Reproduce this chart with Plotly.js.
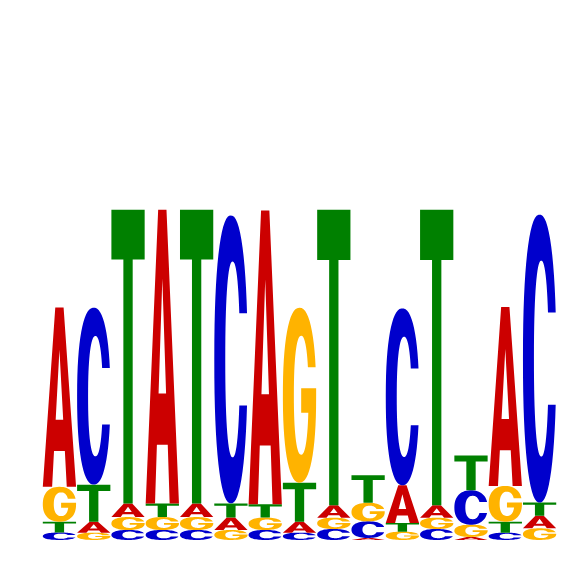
<!DOCTYPE html>
<html>
<head>
<meta charset="utf-8">
<script src="https://cdn.plot.ly/plotly-3.0.1.min.js"></script>
<style>
  html, body { margin: 0; padding: 0; background: #fff; }
  #logo { width: 566px; height: 566px; }
</style>
</head>
<body>
<div id="logo"></div>
<script>
// motif positions and per-letter heights (bits)
const positions = [1, 2, 3, 4, 5, 6, 7, 8, 9, 10, 11, 12, 13, 14, 15];
const bitsA = [1.08, 0.066, 0.082, 1.77, 0.082, 0.075, 1.77, 0.066, 0.075, 0.012, 0.227, 0.075, 0.018, 1.078, 0.075];
const bitsC = [0.045, 1.066, 0.06, 0.06, 0.06, 1.735, 0.06, 0.044, 0.066, 0.10, 1.066, 0.066, 0.207, 0.044, 1.735];
const bitsG = [0.21, 0.044, 0.078, 0.078, 0.078, 0.06, 0.075, 1.054, 0.068, 0.112, 0.05, 0.068, 0.074, 0.215, 0.07];
const bitsT = [0.065, 0.223, 1.77, 0.082, 1.77, 0.085, 0.08, 0.235, 1.78, 0.166, 0.052, 1.78, 0.209, 0.066, 0.08];

const letterColors = { A: '#CC0000', C: '#0000CC', G: '#FFB300', T: '#008000' };
const letterWidth = 0.97;

// ---- glyph outlines in a unit box (u right, v up) ----
const N_EXP = 2.3;

function superPoint(cx, cy, rx, ry, t) {
  const c = Math.cos(t), s = Math.sin(t);
  return [cx + rx * Math.sign(c) * Math.pow(Math.abs(c), 2 / N_EXP),
          cy + ry * Math.sign(s) * Math.pow(Math.abs(s), 2 / N_EXP)];
}

// angle on the superellipse where v sits dv above the centre
function angleFor(dv, ry) {
  return Math.asin(Math.pow(dv / ry, N_EXP / 2));
}

function arc(cx, cy, rx, ry, t0, t1, steps) {
  const pts = [];
  for (let i = 0; i <= steps; i++) {
    pts.push(superPoint(cx, cy, rx, ry, t0 + (t1 - t0) * i / steps));
  }
  return pts;
}

const OUT = { cx: 0.5, cy: 0.5, rx: 0.5, ry: 0.5 };
const INN = { cx: 0.55, cy: 0.5, rx: 0.22, ry: 0.34 };

function glyphA() {
  return [
    [[0, 0], [0.375, 1], [0.625, 1], [1, 0], [0.72, 0], [0.663, 0.2], [0.337, 0.2], [0.28, 0]],
    [[0.387, 0.374], [0.613, 0.374], [0.5, 0.765]]
  ];
}

function glyphT() {
  return [[[0, 1], [1, 1], [1, 0.83], [0.64, 0.83], [0.64, 0], [0.36, 0], [0.36, 0.83], [0, 0.83]]];
}

function glyphC() {
  const to = angleFor(0.16, OUT.ry);
  const ti = angleFor(0.16, INN.ry);
  const outer = arc(OUT.cx, OUT.cy, OUT.rx, OUT.ry, to, 2 * Math.PI - to, 60);
  const inner = arc(INN.cx, INN.cy, INN.rx, INN.ry, 2 * Math.PI - ti, ti, 60);
  return [outer.concat(inner)];
}

function glyphG() {
  const to = angleFor(0.16, OUT.ry);
  const ti = angleFor(0.16, INN.ry);
  const tb = angleFor(0.10, INN.ry);
  const outer = arc(OUT.cx, OUT.cy, OUT.rx, OUT.ry, to, 2 * Math.PI, 60);
  const bar = [[1, 0.54], [0.55, 0.54], [0.55, 0.40]];
  const inner = arc(INN.cx, INN.cy, INN.rx, INN.ry, 2 * Math.PI - tb, ti, 60);
  return [outer.concat(bar, inner)];
}

const glyphs = { A: glyphA(), C: glyphC(), G: glyphG(), T: glyphT() };

function glyphPath(letter, xc, y0, h) {
  const x0 = xc - letterWidth / 2;
  return glyphs[letter].map(poly =>
    poly.map((p, i) => (i ? 'L' : 'M') + (x0 + p[0] * letterWidth).toFixed(4) + ',' + (y0 + p[1] * h).toFixed(4)).join(' ') + ' Z'
  ).join(' ');
}

// ---- stack letters per column, smallest at the bottom ----
const shapes = [];
const totals = [];
positions.forEach((pos, i) => {
  const col = [
    { l: 'A', h: bitsA[i] }, { l: 'C', h: bitsC[i] },
    { l: 'G', h: bitsG[i] }, { l: 'T', h: bitsT[i] }
  ].sort((a, b) => a.h - b.h);
  let y = 0;
  col.forEach(d => {
    shapes.push({
      type: 'path', xref: 'x', yref: 'y', layer: 'above',
      path: glyphPath(d.l, pos, y, d.h),
      fillcolor: letterColors[d.l], fillrule: 'evenodd',
      line: { width: 0 }
    });
    y += d.h;
  });
  totals.push(y);
});

const data = [{
  x: positions, y: totals, type: 'scatter', mode: 'markers',
  marker: { opacity: 0 }, hoverinfo: 'skip', showlegend: false
}];

const layout = {
  width: 566, height: 566,
  margin: { l: 0, r: 0, t: 0, b: 0 },
  paper_bgcolor: '#fff', plot_bgcolor: '#fff',
  xaxis: { range: [-0.733, 15.77], visible: false, fixedrange: true },
  yaxis: { range: [-0.157, 3.253], visible: false, fixedrange: true },
  shapes: shapes,
  showlegend: false
};

Plotly.newPlot('logo', data, layout, { staticPlot: true });
</script>
</body>
</html>
